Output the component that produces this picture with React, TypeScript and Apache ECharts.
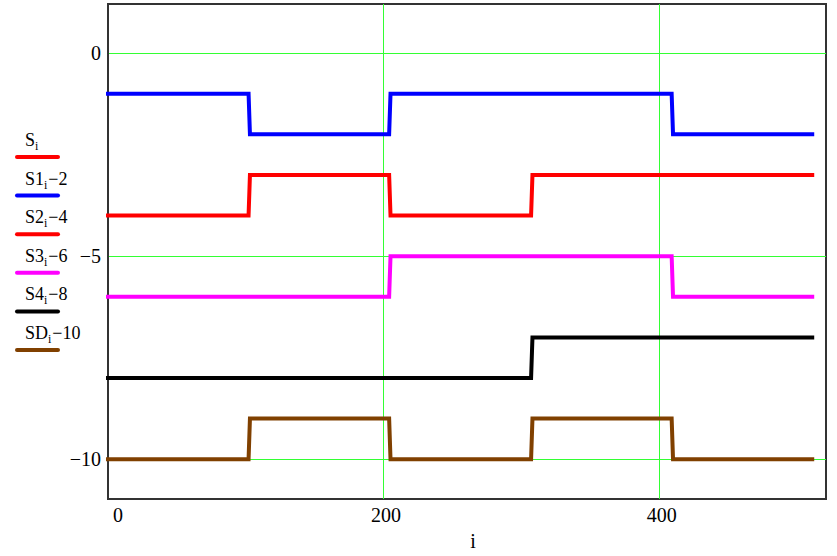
import React, { useEffect, useRef } from "react";
import * as echarts from "echarts";

// segment boundaries (sample index i) and per-segment levels of each trace
const breakIdx = [0, 102, 204, 307, 409, 511];
const S1m2 = [-1, -2, -1, -1, -2];
const S2m4 = [-4, -3, -4, -3, -3];
const S3m6 = [-6, -6, -5, -5, -6];
const S4m8 = [-8, -8, -8, -7, -7];
const SDm10 = [-10, -9, -10, -9, -10];

const yTicks = [0, -5, -10];
const xTicks = [0, 200, 400];

const legendNames = ["S", "S1", "S2", "S3", "S4", "SD"];
const legendSuffix = ["", "\u22122", "\u22124", "\u22126", "\u22128", "\u221210"];
const legendColors = ["#ff0000", "#0000ff", "#ff0000", "#ff00ff", "#000000", "#804000"];

const SERIF = "Liberation Serif";
const GRID_GREEN = "#33ff33";

function build(levels: number[]) {
  const pts: [number, number][] = [];
  for (let k = 0; k < levels.length; k++) {
    const start = k === 0 ? breakIdx[0] : breakIdx[k] + 1;
    pts.push([start, levels[k]]);
    pts.push([breakIdx[k + 1], levels[k]]);
  }
  return pts;
}

export default function App() {
  const ref = useRef<HTMLDivElement>(null);
  useEffect(() => {
    if (!ref.current) return;
    const chart = echarts.init(ref.current, null, { renderer: "svg" });
    const traces = [
      { data: S1m2, color: "#0000ff" },
      { data: S2m4, color: "#ff0000" },
      { data: S3m6, color: "#ff00ff" },
      { data: S4m8, color: "#000000" },
      { data: SDm10, color: "#804000" },
    ];
    const graphics: any[] = [];
    legendNames.forEach((nm, k) => {
      const y0 = 131 + k * 38.6;
      graphics.push({
        type: "text",
        left: 25,
        top: y0,
        style: {
          text: `{m|${nm}}{s|i}{m|${legendSuffix[k]}}`,
          rich: {
            m: { fontFamily: SERIF, fontSize: 18, fill: "#000", lineHeight: 21, verticalAlign: "top" },
            s: { fontFamily: SERIF, fontSize: 12, fill: "#000", lineHeight: 21, verticalAlign: "bottom", padding: [0, 1, 0, 0] },
          },
        },
      });
      graphics.push({
        type: "line",
        shape: { x1: 17, y1: y0 + 26, x2: 58, y2: y0 + 26 },
        style: { stroke: legendColors[k], lineWidth: 4, lineCap: "round" },
      });
    });
    chart.setOption({
      animation: false,
      backgroundColor: "#fff",
      grid: {
        left: 108,
        top: 4,
        right: 11,
        bottom: 55,
        show: true,
        borderColor: "#333",
        borderWidth: 2,
        backgroundColor: "transparent",
      },
      xAxis: {
        type: "value",
        min: 0,
        max: 521,
        interval: 200,
        name: "i",
        nameLocation: "middle",
        nameGap: 32,
        nameTextStyle: { fontFamily: SERIF, fontSize: 20, color: "#000", padding: [0, 0, 0, 12] },
        axisLine: { show: false },
        axisTick: { show: false, customValues: xTicks },
        splitLine: { show: true, lineStyle: { color: GRID_GREEN, width: 1 } },
        axisLabel: {
          fontFamily: SERIF,
          fontSize: 20,
          color: "#000",
          margin: 6,
          alignMinLabel: "left",
          padding: [0, 0, 0, 5],
          customValues: xTicks,
        },
      },
      yAxis: {
        type: "value",
        min: -10.98,
        max: 1.21,
        axisLine: { show: true, lineStyle: { color: "#333", width: 2 } },
        axisTick: { show: false, customValues: yTicks },
        splitLine: { show: true, lineStyle: { color: GRID_GREEN, width: 1 } },
        axisLabel: {
          fontFamily: SERIF,
          fontSize: 20,
          color: "#000",
          margin: 7,
          customValues: yTicks,
          formatter: (v: number) => (v < 0 ? "\u2212" + Math.abs(v) : String(v)),
        },
      },
      graphic: graphics,
      series: traces.map((t) => ({
        type: "line",
        data: build(t.data),
        showSymbol: false,
        symbol: "none",
        z: 3,
        lineStyle: { color: t.color, width: 4, cap: "square", join: "miter" },
        itemStyle: { color: t.color },
      })),
    });
    return () => chart.dispose();
  }, []);
  return <div ref={ref} style={{ width: 837, height: 556, position: "absolute", left: 0, top: 0 }} />;
}
